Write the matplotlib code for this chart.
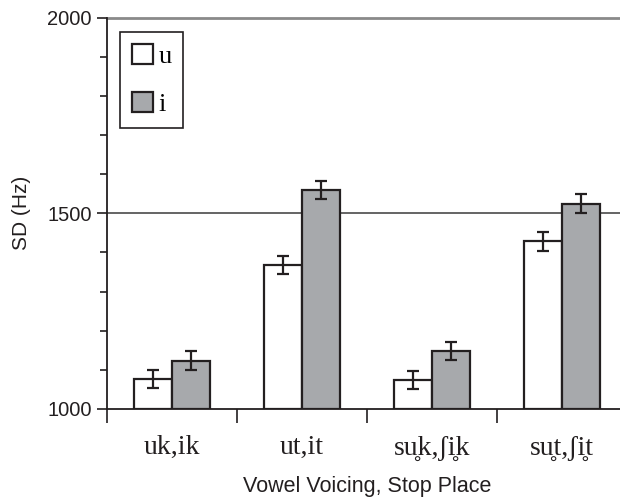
import matplotlib
matplotlib.use("Agg")
import matplotlib.pyplot as plt
import numpy as np
from matplotlib.ticker import MultipleLocator

# Data
categories = ["uk,ik", "ut,it", "su\u0325k,\u0283i\u0325k", "su\u0325t,\u0283i\u0325t"]
series_names = ["u", "i"]
u_means = [1077, 1367, 1075, 1428]
u_errs = [23, 23, 23, 25]
i_means = [1123, 1559, 1149, 1525]
i_errs = [24, 23, 23, 24]

W, H = 620, 497
fig = plt.figure(figsize=(W / 100, H / 100), dpi=100)
ax = fig.add_axes([107 / W, 88 / H, 520 / W, 391.4 / H])

edge = "#231f20"
gray = "#a7a9ac"
bw = 0.29
x = np.arange(len(categories))

base = 1000
ax.bar(x - bw / 2, np.array(u_means) - base, bw, bottom=base, color="white",
       edgecolor=edge, linewidth=1.6, label=series_names[0], zorder=3)
ax.bar(x + bw / 2, np.array(i_means) - base, bw, bottom=base, color=gray,
       edgecolor=edge, linewidth=1.6, label=series_names[1], zorder=3)
ax.errorbar(x - bw / 2, u_means, yerr=u_errs, fmt="none", ecolor=edge,
            elinewidth=1.6, capsize=4.5, capthick=1.6, zorder=4)
ax.errorbar(x + bw / 2, i_means, yerr=i_errs, fmt="none", ecolor=edge,
            elinewidth=1.6, capsize=4.5, capthick=1.6, zorder=4)

ax.set_xlim(-0.5, 3.5)
ax.set_ylim(1000, 2000)

# Horizontal reference lines
ax.axhline(1500, color="#3a3a3a", linewidth=1.1, zorder=1)
ax.axhline(2000, color="#8a8a8a", linewidth=2.0, zorder=1, clip_on=False)

for s in ["top", "right"]:
    ax.spines[s].set_visible(False)
for s in ["left", "bottom"]:
    ax.spines[s].set_color(edge)
    ax.spines[s].set_linewidth(1.3)

# y ticks
ax.yaxis.set_major_locator(MultipleLocator(500))
ax.yaxis.set_minor_locator(MultipleLocator(100))
ax.tick_params(axis="y", which="major", direction="out", length=7, width=1.2,
               color=edge, labelsize=14.5, labelcolor=edge, pad=4)
ax.tick_params(axis="y", which="minor", direction="out", length=5, width=1.2,
               color=edge)
for lab in ax.get_yticklabels():
    lab.set_fontfamily("Liberation Sans")

# x ticks at category boundaries, labels centered on groups
ax.set_xticks(np.arange(-0.5, 3.6, 1.0))
ax.set_xticklabels([])
ax.tick_params(axis="x", which="major", direction="out", length=10, width=1.2,
               color=edge)
ax.set_xticks(x, minor=True)
ax.set_xticklabels(categories, minor=True, fontsize=20, color=edge,
                   fontfamily=["Liberation Serif", "DejaVu Serif"])
ax.tick_params(axis="x", which="minor", length=0, pad=19)

ax.set_xlabel("Vowel Voicing, Stop Place", fontsize=15.5, color=edge,
              fontfamily="Liberation Sans", labelpad=11)
ax.set_ylabel("SD (Hz)", fontsize=15, color=edge, fontfamily="Liberation Sans",
              labelpad=12)

leg = fig.legend(loc="upper left", bbox_to_anchor=(120 / W, 1 - 32 / H),
                 borderaxespad=0, frameon=True, fancybox=False,
                 prop={"family": "Liberation Serif", "size": 19},
                 handlelength=0.8, handleheight=0.8, handletextpad=0.2,
                 labelspacing=0.9, borderpad=0.45)
leg.get_frame().set_edgecolor(edge)
leg.get_frame().set_linewidth(1.2)
leg.get_frame().set_alpha(1)

fig.savefig("out.png", dpi=100)
